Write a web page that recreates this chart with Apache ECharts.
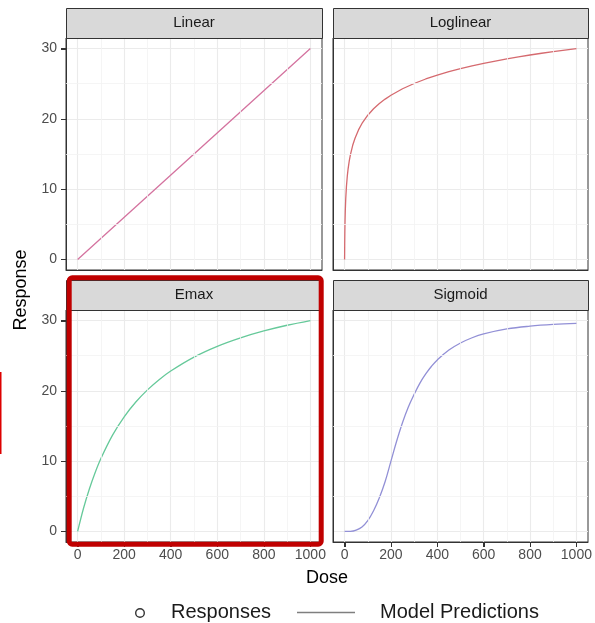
<!DOCTYPE html>
<html><head><meta charset="utf-8">
<script src="https://cdn.jsdelivr.net/npm/echarts@6/dist/echarts.min.js"></script>
<style>html,body{margin:0;padding:0;background:#fff}#c{width:595px;height:623px}</style>
</head><body><div id="c"></div>
<script>
// ---- data ----
const panelNames = ['Linear', 'Loglinear', 'Emax', 'Sigmoid'];

const doseLinear = [0, 250, 500, 750, 1000];
const respLinear = [0, 7.5, 15, 22.5, 30];

const doseLog = [0, 0.5, 1, 2, 3, 5, 8, 12, 15, 20, 25, 35, 45, 60, 75, 100, 125, 150, 175, 200, 250, 300, 350, 400, 450, 500, 550, 600, 650, 700, 750, 800, 850, 900, 950, 1000];
const respLog = [0, 2.23, 3.66, 5.57, 6.88, 8.66, 10.40, 11.97, 12.84, 13.98, 14.88, 16.24, 17.25, 18.43, 19.34, 20.52, 21.43, 22.18, 22.81, 23.36, 24.28, 25.03, 25.67, 26.22, 26.70, 27.14, 27.53, 27.89, 28.22, 28.52, 28.81, 29.08, 29.33, 29.56, 29.79, 30];

const doseEmax = [0, 25, 50, 75, 100, 150, 200, 250, 300, 350, 400, 500, 600, 700, 800, 900, 1000];
const respEmax = [0, 3.26, 6.01, 8.36, 10.38, 13.70, 16.31, 18.41, 20.14, 21.59, 22.82, 24.80, 26.33, 27.54, 28.52, 29.33, 30.0];

const doseSig = [0, 25, 50, 75, 100, 125, 150, 175, 200, 225, 250, 275, 300, 325, 350, 375, 400, 450, 500, 550, 600, 700, 800, 900, 1000];
const respSig = [0, 0.02, 0.2, 0.65, 1.55, 2.95, 4.8, 7.1, 10.0, 12.9, 15.5, 17.7, 19.5, 21.1, 22.4, 23.5, 24.4, 25.8, 26.8, 27.55, 28.1, 28.8, 29.2, 29.45, 29.6];

const xTicks = [0, 200, 400, 600, 800, 1000];
const xMinor = [100, 300, 500, 700, 900];
const yTicks = [0, 10, 20, 30];
const yMinor = [5, 15, 25];

const legendLabels = ['Responses', 'Model Predictions'];
const xTitle = 'Dose';
const yTitle = 'Response';

// ---- layout / style ----
const FONT = '"Liberation Sans", Arial, sans-serif';
const doses = [doseLinear, doseLog, doseEmax, doseSig];
const resps = [respLinear, respLog, respEmax, respSig];
const colors = ['#d4739f', '#d56a6f', '#66c99a', '#9290d6'];
const smoothing = [false, false, 0.35, 0.4];
const layout = [
  { left: 66, top: 38, w: 256, h: 232, showX: false, showY: true, stripTop: 8 },
  { left: 333, top: 38, w: 255, h: 232, showX: false, showY: false, stripTop: 8 },
  { left: 66, top: 310, w: 256, h: 232, showX: true, showY: true, stripTop: 280 },
  { left: 333, top: 310, w: 255, h: 232, showX: true, showY: false, stripTop: 280 }
];

const grid = [], xAxis = [], yAxis = [], series = [], graphic = [];
layout.forEach((L, i) => {
  grid.push({ left: L.left, top: L.top, width: L.w, height: L.h, show: true,
    backgroundColor: 'transparent', borderColor: '#333', borderWidth: 1 });
  xAxis.push({ gridIndex: i, type: 'value', min: -50, max: 1050,
    axisLine: { show: true, onZero: false, lineStyle: { color: '#333', width: 1 } },
    axisTick: { show: L.showX, length: 5, customValues: xTicks, lineStyle: { color: '#333' } },
    axisLabel: { show: L.showX, customValues: xTicks, margin: 6, fontSize: 14, color: '#4d4d4d', fontFamily: FONT,
      formatter: v => String(v) },
    splitLine: { show: true, lineStyle: { color: '#ebebeb', width: 1.1 } } });
  yAxis.push({ gridIndex: i, type: 'value', min: -1.5, max: 31.5,
    axisLine: { show: true, onZero: false, lineStyle: { color: '#333', width: 1 } },
    axisTick: { show: L.showY, length: 5, customValues: yTicks, lineStyle: { color: '#333' } },
    axisLabel: { show: L.showY, customValues: yTicks, margin: 9, fontSize: 14, color: '#4d4d4d', fontFamily: FONT,
      formatter: v => String(v) },
    splitLine: { show: true, lineStyle: { color: '#ebebeb', width: 1.1 } } });
  // minor grid lines
  series.push({ type: 'line', xAxisIndex: i, yAxisIndex: i, data: [], silent: true, z: 1,
    markLine: { silent: true, symbol: ['none', 'none'], label: { show: false }, animation: false,
      lineStyle: { color: '#f3f3f3', width: 0.8, type: 'solid' },
      emphasis: { disabled: true },
      data: xMinor.map(v => ({ xAxis: v })).concat(yMinor.map(v => ({ yAxis: v }))) } });
  series.push({ type: 'line', name: panelNames[i], xAxisIndex: i, yAxisIndex: i, z: 3,
    showSymbol: false, symbol: 'none', smooth: smoothing[i],
    lineStyle: { color: colors[i], width: 1.3, join: 'round' },
    data: doses[i].map((d, k) => [d, resps[i][k]]) });
  // strip
  graphic.push({ type: 'rect', z: 5, shape: { x: L.left + 0.5, y: L.stripTop + 0.5, width: L.w, height: 30 },
    style: { fill: '#d9d9d9', stroke: '#333', lineWidth: 1 } });
  graphic.push({ type: 'text', z: 6, x: L.left + L.w / 2, y: L.stripTop + 15,
    style: { text: panelNames[i], font: '15px ' + FONT, fill: '#1a1a1a',
      align: 'center', verticalAlign: 'middle', textAlign: 'center', textVerticalAlign: 'middle' } });
});

// axis titles
graphic.push({ type: 'text', x: 327, y: 578, style: { text: xTitle, font: '18px ' + FONT, fill: '#000',
  align: 'center', verticalAlign: 'middle', textAlign: 'center', textVerticalAlign: 'middle' } });
graphic.push({ type: 'text', x: 21, y: 290, rotation: Math.PI / 2, style: { text: yTitle, font: '18px ' + FONT, fill: '#000',
  align: 'center', verticalAlign: 'middle', textAlign: 'center', textVerticalAlign: 'middle' } });

// legend
graphic.push({ type: 'circle', shape: { cx: 140, cy: 613, r: 4.3 }, style: { fill: 'none', stroke: '#333', lineWidth: 1.4 } });
graphic.push({ type: 'text', x: 171, y: 612, style: { text: legendLabels[0], font: '20px ' + FONT, fill: '#1a1a1a',
  align: 'left', verticalAlign: 'middle', textAlign: 'left', textVerticalAlign: 'middle' } });
graphic.push({ type: 'line', shape: { x1: 297, y1: 612.5, x2: 355, y2: 612.5 }, style: { stroke: '#7f7f7f', lineWidth: 1.5 } });
graphic.push({ type: 'text', x: 380, y: 612, style: { text: legendLabels[1], font: '20px ' + FONT, fill: '#1a1a1a',
  align: 'left', verticalAlign: 'middle', textAlign: 'left', textVerticalAlign: 'middle' } });

// highlight annotations
graphic.push({ type: 'rect', z: 100, shape: { x: 69.2, y: 277.8, width: 252, height: 266.4, r: 3 },
  style: { fill: 'none', stroke: '#c00000', lineWidth: 5 } });
graphic.push({ type: 'line', z: 100, shape: { x1: 0.75, y1: 372, x2: 0.75, y2: 454 }, style: { stroke: '#dd0000', lineWidth: 1.5 } });

const chart = echarts.init(document.getElementById('c'), null, { renderer: 'canvas' });
chart.setOption({ animation: false, backgroundColor: '#fff', grid, xAxis, yAxis, series });

// outside tick marks, positioned through the library's own scales
layout.forEach((L, i) => {
  if (L.showY) {
    yTicks.forEach(v => {
      const py = Math.round(chart.convertToPixel({ yAxisIndex: i }, v)) + 0.5;
      graphic.push({ type: 'line', z: 50, shape: { x1: L.left - 5, y1: py, x2: L.left, y2: py },
        style: { stroke: '#333', lineWidth: 1 } });
    });
  }
  if (L.showX) {
    xTicks.forEach(v => {
      const px = Math.round(chart.convertToPixel({ xAxisIndex: i }, v)) + 0.5;
      graphic.push({ type: 'line', z: 50, shape: { x1: px, y1: L.top + L.h, x2: px, y2: L.top + L.h + 5 },
        style: { stroke: '#333', lineWidth: 1 } });
    });
  }
});
chart.setOption({ graphic });
</script>
</body></html>
